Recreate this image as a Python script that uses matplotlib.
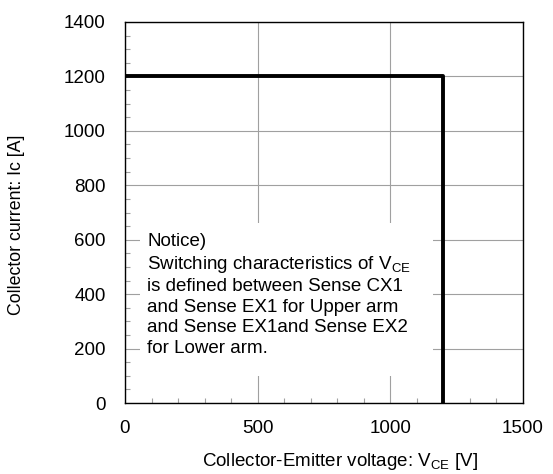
import matplotlib.pyplot as plt
from matplotlib.patches import Rectangle
from matplotlib.ticker import MultipleLocator

plt.rcParams["font.family"] = ["Liberation Sans", "DejaVu Sans"]

# RBSOA boundary
vce = [0, 1200, 1200]
ic = [1200, 1200, 0]

x_ticks = [0, 500, 1000, 1500]
y_ticks = [0, 200, 400, 600, 800, 1000, 1200, 1400]

notice = ("Notice)\n"
          "Switching characteristics of V$_{\\mathregular{CE}}$\n"
          "is defined between Sense CX1\n"
          "and Sense EX1 for Upper arm\n"
          "and Sense EX1and Sense EX2\n"
          "for Lower arm.")

fig = plt.figure(figsize=(5.53, 4.74), dpi=100)
ax = fig.add_axes([125 / 553, 1 - 403 / 474, 398 / 553, 381 / 474])

ax.plot(vce, ic, color="black", linewidth=2.8, solid_capstyle="butt", zorder=4)

ax.set_xlim(0, 1500)
ax.set_ylim(0, 1400)
ax.set_xticks(x_ticks)
ax.set_yticks(y_ticks)
ax.xaxis.set_minor_locator(MultipleLocator(100))
ax.yaxis.set_minor_locator(MultipleLocator(50))
ax.tick_params(which="both", direction="in", length=0, labelsize=13.5)
ax.tick_params(axis="x", which="major", pad=12)
ax.tick_params(axis="y", which="major", pad=14)
ax.tick_params(which="minor", length=3.5, color="#a0a0a0", width=0.8)
ax.grid(which="major", color="#a0a0a0", linewidth=0.8, zorder=0)

for s in ax.spines.values():
    s.set_color("black")
    s.set_linewidth(1.0)
    s.set_zorder(6)

ax.set_xlabel("Collector-Emitter voltage: V$_{\\mathregular{CE}}$ [V]", fontsize=13.5)
ax.set_ylabel("Collector current: Ic [A]", fontsize=12.8)
ax.xaxis.set_label_coords(0.54, -0.127)
ax.yaxis.set_label_coords(-0.252, 0.467)

# white panel behind the notice hides the grid
ax.add_patch(Rectangle((56, 99), 1105, 562, facecolor="white", edgecolor="none", zorder=2))
ax.text(83, 626, notice, fontsize=13.5, va="top", ha="left", linespacing=1.27, zorder=5)

fig.savefig("out.png", dpi=100)
